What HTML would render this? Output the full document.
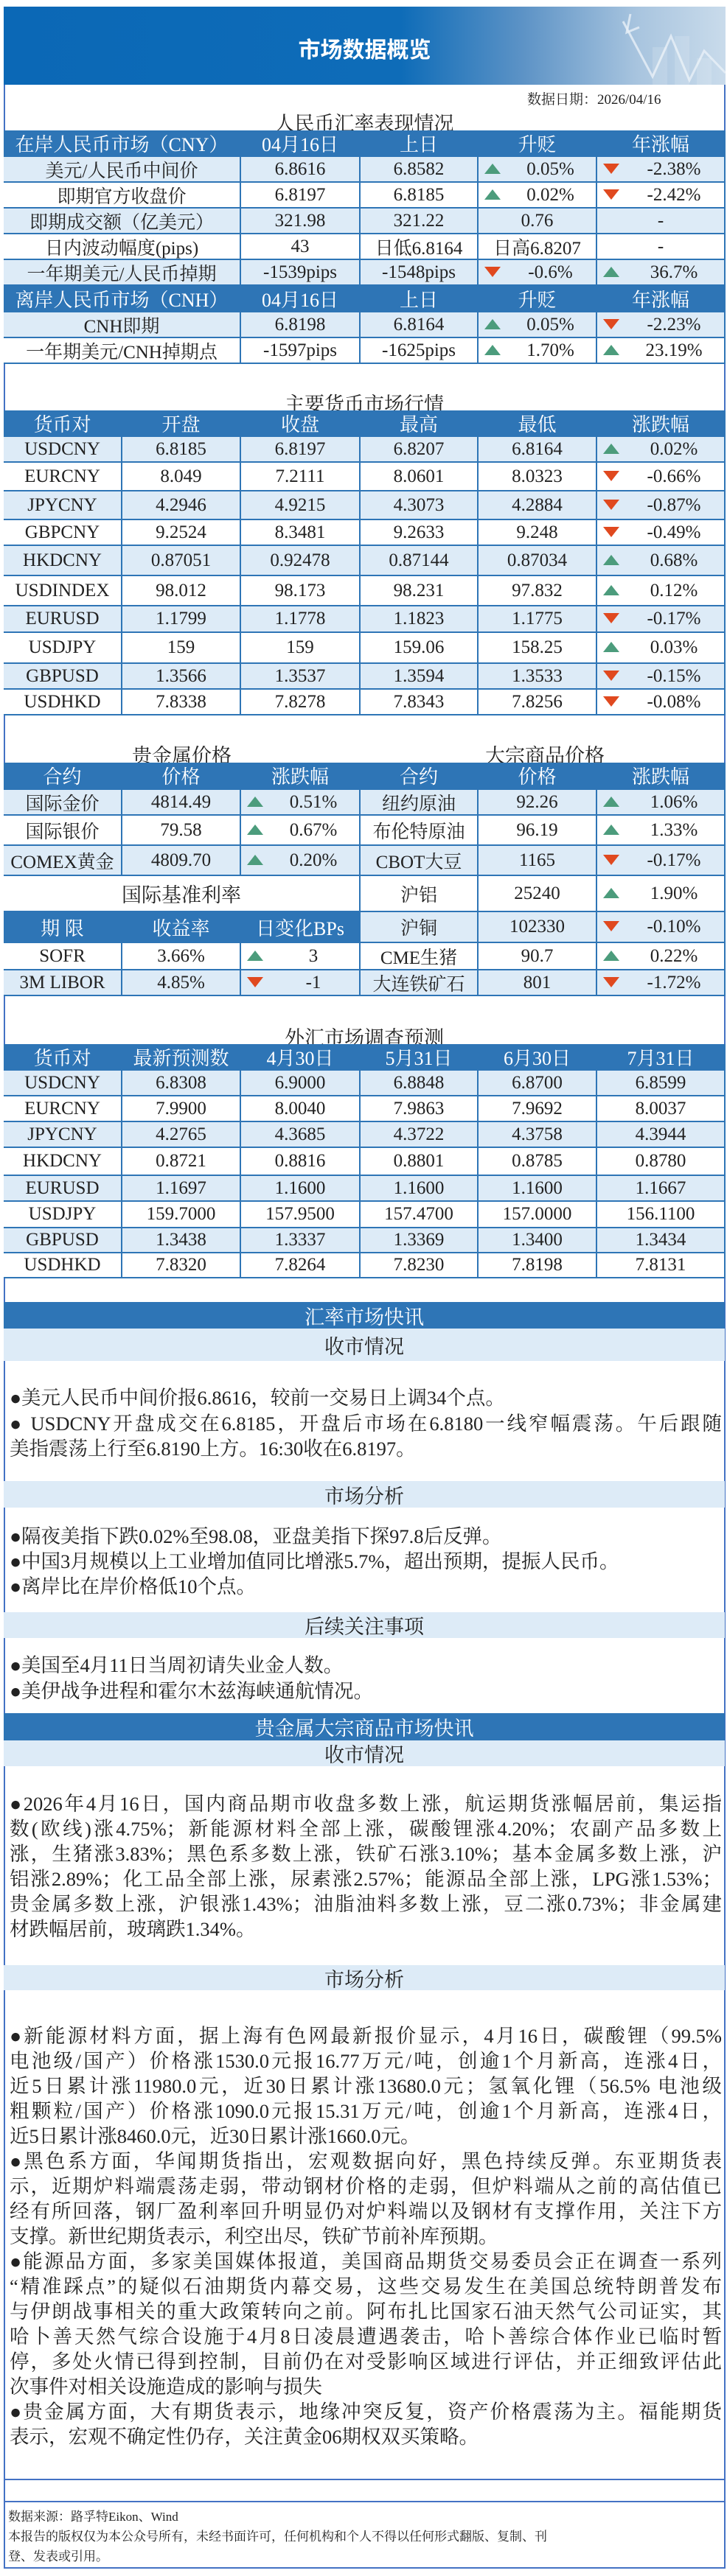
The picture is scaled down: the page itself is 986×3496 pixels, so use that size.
<!DOCTYPE html>
<html><head><meta charset="utf-8">
<style>
html,body{margin:0;padding:0;background:#fff;}
body{width:986px;height:3496px;position:relative;overflow:hidden;font-family:"Liberation Serif","Noto Serif CJK SC",serif;color:#222;}
.a{position:absolute;box-sizing:border-box;}
.c{position:absolute;box-sizing:border-box;display:flex;align-items:center;justify-content:center;font-size:25px;white-space:nowrap;}
.ttl{position:absolute;left:5px;width:978px;text-align:center;font-size:27px;}
.band{position:absolute;left:5px;width:978px;display:flex;align-items:center;justify-content:center;font-size:27px;}
.ln{position:absolute;left:13px;width:966px;height:34px;line-height:34px;font-size:26.5px;white-space:nowrap;}
.ln.j{text-align:justify;text-align-last:justify;}
.up{position:absolute;width:0;height:0;border-left:11px solid transparent;border-right:11px solid transparent;border-bottom:14px solid #4c9c7c;}
.dn{position:absolute;width:0;height:0;border-left:11px solid transparent;border-right:11px solid transparent;border-top:14px solid #e0491f;}
</style></head>
<body>
<div class="a" style="left:5px;top:9px;width:979px;height:3477px;border:2px solid #4472c4;"></div>
<div class="a" style="left:5px;top:9px;width:979px;height:106px;background:linear-gradient(90deg,#0b68b6 0%,#0e6cb8 55%,#5d93c6 72%,#a9c5df 88%,#c9dbeb 100%);overflow:hidden;">
 <svg width="979" height="106" style="position:absolute;left:0;top:0">
  <polyline points="840,20 880,95 905,40 930,100 950,60 979,90" fill="none" stroke="#e8f0f8" stroke-width="3" opacity="0.8"/>
  <polyline points="850,10 845,35 862,28" fill="none" stroke="#e8f0f8" stroke-width="3" opacity="0.8"/>
  <rect x="880" y="55" width="20" height="51" fill="#fff" opacity="0.15"/>
  <rect x="910" y="40" width="20" height="66" fill="#fff" opacity="0.15"/>
  <rect x="940" y="70" width="20" height="36" fill="#fff" opacity="0.15"/>
 </svg>
 <div class="a" style="left:0;width:979px;top:34px;text-align:center;color:#fff;font-size:30px;font-weight:bold;font-family:'Liberation Sans','Noto Sans CJK SC',sans-serif;">市场数据概览</div>
</div>
<div class="a" style="left:715px;top:120px;font-size:19px;">数据日期：2026/04/16</div>
<div class="ttl" style="top:146px;">人民币汇率表现情况</div>
<div class="ttl" style="top:527px;">主要货币市场行情</div>
<div class="a" style="left:166px;width:161px;top:1004px;text-align:center;font-size:27px;">贵金属价格</div>
<div class="a" style="left:649px;width:180px;top:1004px;text-align:center;font-size:27px;">大宗商品价格</div>
<div class="ttl" style="top:1387px;">外汇市场调查预测</div>
<div id="tables"></div>
<div id="news"></div>
<div class="a" style="left:5px;top:3364px;width:979px;height:2px;background:#4472c4;"></div>
<div class="a" style="left:5px;top:3394px;width:979px;height:2px;background:#4472c4;"></div>
<div class="a" style="left:11px;top:3402px;font-size:17px;line-height:27px;">数据来源：路孚特Eikon、Wind<br>本报告的版权仅为本公众号所有，未经书面许可，任何机构和个人不得以任何形式翻版、复制、刊<br>登、发表或引用。</div>
<script>
const BLUE='#2e75b6', LIGHT='#ddebf7';
const cnyHeader=['在岸人民币市场（CNY）','04月16日','上日','升贬','年涨幅'];
const cnyRows=[
 ['美元/人民币中间价','6.8616','6.8582','0.05%','u','-2.38%','d'],
 ['即期官方收盘价','6.8197','6.8185','0.02%','u','-2.42%','d'],
 ['即期成交额（亿美元）','321.98','321.22','0.76','','-',''],
 ['日内波动幅度(pips)','43','日低6.8164','日高6.8207','','-',''],
 ['一年期美元/人民币掉期','-1539pips','-1548pips','-0.6%','d','36.7%','u']];
const cnhHeader=['离岸人民币市场（CNH）','04月16日','上日','升贬','年涨幅'];
const cnhRows=[
 ['CNH即期','6.8198','6.8164','0.05%','u','-2.23%','d'],
 ['一年期美元/CNH掉期点','-1597pips','-1625pips','1.70%','u','23.19%','u']];
const majHeader=['货币对','开盘','收盘','最高','最低','涨跌幅'];
const majRows=[
 ['USDCNY','6.8185','6.8197','6.8207','6.8164','0.02%','u'],
 ['EURCNY','8.049','7.2111','8.0601','8.0323','-0.66%','d'],
 ['JPYCNY','4.2946','4.9215','4.3073','4.2884','-0.87%','d'],
 ['GBPCNY','9.2524','8.3481','9.2633','9.248','-0.49%','d'],
 ['HKDCNY','0.87051','0.92478','0.87144','0.87034','0.68%','u'],
 ['USDINDEX','98.012','98.173','98.231','97.832','0.12%','u'],
 ['EURUSD','1.1799','1.1778','1.1823','1.1775','-0.17%','d'],
 ['USDJPY','159','159','159.06','158.25','0.03%','u'],
 ['GBPUSD','1.3566','1.3537','1.3594','1.3533','-0.15%','d'],
 ['USDHKD','7.8338','7.8278','7.8343','7.8256','-0.08%','d']];
const pmHeader=['合约','价格','涨跌幅'];
const pmRows=[['国际金价','4814.49','0.51%','u'],['国际银价','79.58','0.67%','u'],['COMEX黄金','4809.70','0.20%','u']];
const rateHeader=['期  限','收益率','日变化BPs'];
const rateRows=[['SOFR','3.66%','3','u'],['3M LIBOR','4.85%','-1','d']];
const cmHeader=['合约','价格','涨跌幅'];
const cmRows=[['纽约原油','92.26','1.06%','u'],['布伦特原油','96.19','1.33%','u'],['CBOT大豆','1165','-0.17%','d'],['沪铝','25240','1.90%','u'],['沪铜','102330','-0.10%','d'],['CME生猪','90.7','0.22%','u'],['大连铁矿石','801','-1.72%','d']];
const fcHeader=['货币对','最新预测数','4月30日','5月31日','6月30日','7月31日'];
const fcRows=[
 ['USDCNY','6.8308','6.9000','6.8848','6.8700','6.8599'],
 ['EURCNY','7.9900','8.0040','7.9863','7.9692','8.0037'],
 ['JPYCNY','4.2765','4.3685','4.3722','4.3758','4.3944'],
 ['HKDCNY','0.8721','0.8816','0.8801','0.8785','0.8780'],
 ['EURUSD','1.1697','1.1600','1.1600','1.1600','1.1667'],
 ['USDJPY','159.7000','157.9500','157.4700','157.0000','156.1100'],
 ['GBPUSD','1.3438','1.3337','1.3369','1.3400','1.3434'],
 ['USDHKD','7.8320','7.8264','7.8230','7.8198','7.8131']];
const X5=[5,327,489,649,810,984], X6=[5,166,327,489,649,810,984];
const root=document.getElementById('tables');
function cell(x0,x1,y0,y1,bg,txt,color,dir,name,fs){
 const d=document.createElement('div');
 d.className='c';
 
 
 d.style.left=x0+'px';d.style.top=y0+'px';d.style.width=(x1-x0)+'px';d.style.height=(y1-y0)+'px';
 d.style.background=bg;d.style.color=color;
 d.style.borderRight='2px solid '+BLUE;d.style.borderBottom='2px solid '+BLUE;
 if(fs)d.style.fontSize=fs+'px';
 const s=document.createElement('span');s.textContent=txt;
 if(dir){s.style.marginLeft='36px';
  const t=document.createElement('div');t.className=dir==='u'?'up':'dn';
  
  
  t.style.left='8px';t.style.top=((y1-y0)/2-9)+'px';d.appendChild(t);}
 d.appendChild(s);root.appendChild(d);
}
function header(X,y0,y1,arr,from,name){arr.forEach((h,i)=>cell(X[from+i],X[from+i+1],y0,y1,BLUE,h,'#fff','',name+'-header-'+i,26));}
header(X5,177,213,cnyHeader,0,'cny');
const cnyY=[213,248,283,318,353,388];
cnyRows.forEach((r,i)=>{const bg=i%2?'#fff':LIGHT;const y0=cnyY[i],y1=cnyY[i+1];
 cell(X5[0],X5[1],y0,y1,bg,r[0],'#222','','cny-label-'+i);
 cell(X5[1],X5[2],y0,y1,bg,r[1],'#222','','cny-today-'+i);
 cell(X5[2],X5[3],y0,y1,bg,r[2],'#222','','cny-prev-'+i);
 cell(X5[3],X5[4],y0,y1,bg,r[3],'#222',r[4],'cny-change-'+i);
 cell(X5[4],X5[5],y0,y1,bg,r[5],'#222',r[6],'cny-ytd-'+i);});
header(X5,388,424,cnhHeader,0,'cnh');
const cnhY=[424,459,494];
cnhRows.forEach((r,i)=>{const bg=i%2?'#fff':LIGHT;const y0=cnhY[i],y1=cnhY[i+1];
 cell(X5[0],X5[1],y0,y1,bg,r[0],'#222','','cnh-label-'+i);
 cell(X5[1],X5[2],y0,y1,bg,r[1],'#222','','cnh-today-'+i);
 cell(X5[2],X5[3],y0,y1,bg,r[2],'#222','','cnh-prev-'+i);
 cell(X5[3],X5[4],y0,y1,bg,r[3],'#222',r[4],'cnh-change-'+i);
 cell(X5[4],X5[5],y0,y1,bg,r[5],'#222',r[6],'cnh-ytd-'+i);});
header(X6,557,593,majHeader,0,'major');
const majY=[593,628,667,706,741,782,823,859,901,936,971];
majRows.forEach((r,i)=>{const bg=i%2?'#fff':LIGHT;const y0=majY[i],y1=majY[i+1];
 for(let k=0;k<5;k++)cell(X6[k],X6[k+1],y0,y1,bg,r[k],'#222','','major-'+r[0].toLowerCase()+'-'+k);
 cell(X6[5],X6[6],y0,y1,bg,r[5],'#222',r[6],'major-'+r[0].toLowerCase()+'-change');});
header(X6,1035,1072,pmHeader,0,'precious');
header(X6,1035,1072,cmHeader,3,'commodity');
const cY=[1072,1107,1148,1189,1238,1280,1317,1352];
pmRows.forEach((r,i)=>{const bg=i%2?'#fff':LIGHT;const y0=cY[i],y1=cY[i+1];
 cell(X6[0],X6[1],y0,y1,bg,r[0],'#222','','precious-name-'+i);
 cell(X6[1],X6[2],y0,y1,bg,r[1],'#222','','precious-price-'+i);
 cell(X6[2],X6[3],y0,y1,bg,r[2],'#222',r[3],'precious-change-'+i);});
cell(X6[0],X6[3],cY[3],cY[4],'#fff','国际基准利率','#222','','rates-title',27);
header(X6,cY[4],cY[5],rateHeader,0,'rates');
rateRows.forEach((r,i)=>{const bg=i%2?LIGHT:'#fff';const y0=cY[5+i],y1=cY[6+i];
 cell(X6[0],X6[1],y0,y1,bg,r[0],'#222','','rate-name-'+i);
 cell(X6[1],X6[2],y0,y1,bg,r[1],'#222','','rate-yield-'+i);
 cell(X6[2],X6[3],y0,y1,bg,r[2],'#222',r[3],'rate-change-'+i);});
cmRows.forEach((r,i)=>{const bg=i%2?'#fff':LIGHT;const y0=cY[i],y1=cY[i+1];
 cell(X6[3],X6[4],y0,y1,bg,r[0],'#222','','commodity-name-'+i);
 cell(X6[4],X6[5],y0,y1,bg,r[1],'#222','','commodity-price-'+i);
 cell(X6[5],X6[6],y0,y1,bg,r[2],'#222',r[3],'commodity-change-'+i);});
header(X6,1417,1453,fcHeader,0,'forecast');
const fY=[1453,1488,1523,1558,1596,1631,1667,1701,1735];
fcRows.forEach((r,i)=>{const bg=i%2?'#fff':LIGHT;const y0=fY[i],y1=fY[i+1];
 for(let k=0;k<6;k++)cell(X6[k],X6[k+1],y0,y1,bg,r[k],'#222','','forecast-'+r[0].toLowerCase()+'-'+k);});

const news=document.getElementById('news');
function band(y0,y1,txt,dark,name){const d=document.createElement('div');d.className='band';
 
 
 d.style.top=y0+'px';d.style.height=(y1-y0)+'px';d.style.background=dark?BLUE:LIGHT;d.style.color=dark?'#fff':'#222';
 d.textContent=txt;news.appendChild(d);}
function lines(yc,step,arr,name){arr.forEach((l,i)=>{const d=document.createElement('div');
 d.className='ln'+(l[1]?' j':'');
 
 
 d.style.top=(yc+i*step-17)+'px';d.textContent=l[0];news.appendChild(d);});}
band(1767,1803,'汇率市场快讯',true,'fx-news-banner');
band(1803,1847,'收市情况',false,'fx-close-subtitle');
lines(1897,34.5,[['●美元人民币中间价报6.8616，较前一交易日上调34个点。',0],['● USDCNY开盘成交在6.8185，开盘后市场在6.8180一线窄幅震荡。午后跟随',1],['美指震荡上行至6.8190上方。16:30收在6.8197。',0]],'fx-close');
band(2010,2046,'市场分析',false,'fx-analysis-subtitle');
lines(2085,34,[['●隔夜美指下跌0.02%至98.08，亚盘美指下探97.8后反弹。',0],['●中国3月规模以上工业增加值同比增涨5.7%，超出预期，提振人民币。',0],['●离岸比在岸价格低10个点。',0]],'fx-analysis');
band(2188,2223,'后续关注事项',false,'fx-watch-subtitle');
lines(2260,35,[['●美国至4月11日当周初请失业金人数。',0],['●美伊战争进程和霍尔木兹海峡通航情况。',0]],'fx-watch');
band(2325,2362,'贵金属大宗商品市场快讯',true,'commodity-news-banner');
band(2362,2397,'收市情况',false,'commodity-close-subtitle');
lines(2448,34,[
 ['●2026年4月16日，国内商品期市收盘多数上涨，航运期货涨幅居前，集运指',1],
 ['数(欧线)涨4.75%；新能源材料全部上涨，碳酸锂涨4.20%；农副产品多数上',1],
 ['涨，生猪涨3.83%；黑色系多数上涨，铁矿石涨3.10%；基本金属多数上涨，沪',1],
 ['铝涨2.89%；化工品全部上涨，尿素涨2.57%；能源品全部上涨，LPG涨1.53%；',1],
 ['贵金属多数上涨，沪银涨1.43%；油脂油料多数上涨，豆二涨0.73%；非金属建',1],
 ['材跌幅居前，玻璃跌1.34%。',0]],'commodity-close');
band(2667,2701,'市场分析',false,'commodity-analysis-subtitle');
lines(2763,34,[
 ['●新能源材料方面，据上海有色网最新报价显示，4月16日，碳酸锂（99.5%',1],
 ['电池级/国产）价格涨1530.0元报16.77万元/吨，创逾1个月新高，连涨4日，',1],
 ['近5日累计涨11980.0元，近30日累计涨13680.0元；氢氧化锂（56.5% 电池级',1],
 ['粗颗粒/国产）价格涨1090.0元报15.31万元/吨，创逾1个月新高，连涨4日，',1],
 ['近5日累计涨8460.0元，近30日累计涨1660.0元。',0],
 ['●黑色系方面，华闻期货指出，宏观数据向好，黑色持续反弹。东亚期货表',1],
 ['示，近期炉料端震荡走弱，带动钢材价格的走弱，但炉料端从之前的高估值已',1],
 ['经有所回落，钢厂盈利率回升明显仍对炉料端以及钢材有支撑作用，关注下方',1],
 ['支撑。新世纪期货表示，利空出尽，铁矿节前补库预期。',0],
 ['●能源品方面，多家美国媒体报道，美国商品期货交易委员会正在调查一系列',1],
 ['“精准踩点”的疑似石油期货内幕交易，这些交易发生在美国总统特朗普发布',1],
 ['与伊朗战事相关的重大政策转向之前。阿布扎比国家石油天然气公司证实，其',1],
 ['哈卜善天然气综合设施于4月8日凌晨遭遇袭击，哈卜善综合体作业已临时暂',1],
 ['停，多处火情已得到控制，目前仍在对受影响区域进行评估，并正细致评估此',1],
 ['次事件对相关设施造成的影响与损失',0],
 ['●贵金属方面，大有期货表示，地缘冲突反复，资产价格震荡为主。福能期货',1],
 ['表示，宏观不确定性仍存，关注黄金06期权双买策略。',0]],'commodity-analysis');
</script>
</body></html>
